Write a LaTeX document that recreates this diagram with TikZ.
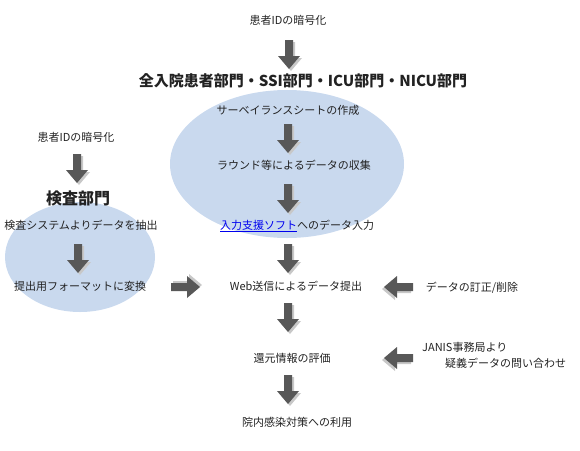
\documentclass[tikz,border=0pt]{standalone}
\usepackage{fontspec}
\setmainfont{Noto Sans CJK JP}
\usetikzlibrary{calc}
\definecolor{ellc}{HTML}{C9D9EE}
\definecolor{arrc}{HTML}{585858}
\definecolor{shc}{HTML}{C8C8C8}
\definecolor{txt}{HTML}{222222}
\definecolor{lnk}{HTML}{0000EE}
\tikzset{
  lbl/.style={font=\fontsize{11}{13}\selectfont, text=txt, inner sep=0pt, text height=9pt, text depth=1pt},
  ttl/.style={font=\fontsize{15}{18}\selectfont\bfseries, text=txt, inner sep=0pt, text height=13pt, text depth=2pt},
  ttlsm/.style={font=\fontsize{16}{18}\selectfont\bfseries, text=txt, inner sep=0pt, text height=14pt, text depth=2pt},
  pics/darr/.style={code={
    \fill[shc] (-2,-2) -- (-2,-18) -- (-9,-18) -- (2,-31) -- (13,-18) -- (6,-18) -- (6,-2) -- cycle;
    \fill[arrc] (-4,0) -- (-4,-16) -- (-11,-16) -- (0,-29) -- (11,-16) -- (4,-16) -- (4,0) -- cycle;
  }},
}
\begin{document}
\begin{tikzpicture}[x=1pt,y=1pt]
\useasboundingbox (0,0) rectangle (580,-450);
% ellipses
\fill[ellc] (287,-164) ellipse [x radius=117, y radius=74];
\fill[ellc] (80,-257) ellipse [x radius=75, y radius=55];
% main column
\node[lbl] (id1) at (288,-20) {患者IDの暗号化};
\node[ttl] (ttl) at (303,-81) {全入院患者部門・SSI部門・ICU部門・NICU部門};
\node[lbl] (s1) at (288,-110) {サーベイランスシートの作成};
\node[lbl] (s2) at (294,-165) {ラウンド等によるデータの収集};
\node[lbl] (s3) at (297,-225) {{\color{lnk}\underline{入力支援ソフト}}へのデータ入力};
\node[lbl] (s4) at (296,-286) {Web送信によるデータ提出};
\node[lbl] (s5) at (292,-358) {還元情報の評価};
\node[lbl] (s6) at (297,-422) {院内感染対策への利用};
% right side
\node[lbl] (r1) at (472,-287) {データの訂正/削除};
\node[lbl, anchor=west] (r2) at (422,-347) {JANIS事務局より};
\node[lbl, anchor=west] (r3) at (445,-363) {疑義データの問い合わせ};
% left column
\node[lbl] (l1) at (76,-137) {患者IDの暗号化};
\node[ttlsm] (l2) at (78,-198) {検査部門};
\node[lbl] (l3) at (81,-225) {検査システムよりデータを抽出};
\node[lbl] (l4) at (80,-286) {提出用フォーマットに変換};
% arrows
\pic (a1) at (289,-40) {darr};
\pic (a2) at (288,-124) {darr};
\pic (a3) at (288,-184) {darr};
\pic (a4) at (288,-244) {darr};
\pic (a5) at (288,-303) {darr};
\pic (a6) at (288,-375) {darr};
\pic (a7) at (77,-154) {darr};
\pic (a8) at (78,-244) {darr};
\pic[rotate=90] (h1) at (171,-287) {darr};
\pic[rotate=-90] (h2) at (413,-287) {darr};
\pic[rotate=-90] (h3) at (413,-358) {darr};
\end{tikzpicture}
\end{document}
